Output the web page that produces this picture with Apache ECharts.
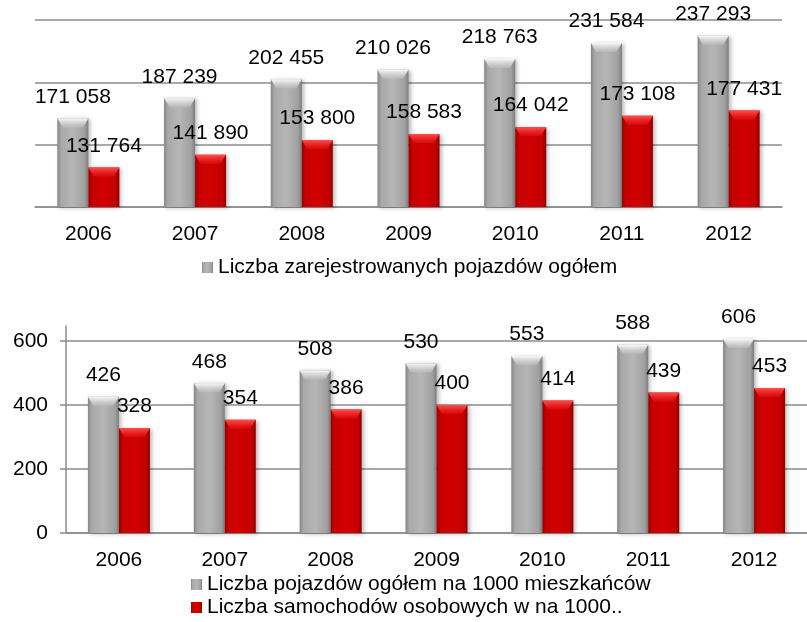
<!DOCTYPE html>
<html>
<head>
<meta charset="utf-8">
<script src="https://cdn.jsdelivr.net/npm/echarts@6/dist/echarts.min.js"></script>
<style>
  html, body { margin: 0; padding: 0; background: #ffffff; }
  #chart { width: 807px; height: 622px; }
</style>
</head>
<body>
<div id="chart"></div>
<script>
// Registered vehicles, 2006-2012
const years = ['2006', '2007', '2008', '2009', '2010', '2011', '2012'];
const vehiclesTotal = [171058, 187239, 202455, 210026, 218763, 231584, 237293];
const passengerCars = [131764, 141890, 153800, 158583, 164042, 173108, 177431];
// Per 1000 inhabitants
const vehiclesPer1000 = [426, 468, 508, 530, 553, 588, 606];
const carsPer1000 = [328, 354, 386, 400, 414, 439, 453];
const perCapitaTicks = [0, 200, 400, 600];

const nameTotal = 'Liczba zarejestrowanych pojazdów ogółem';
const nameCars = 'Liczba zarejestrowanych samochodów osobowych';
const namePer1000 = 'Liczba pojazdów ogółem na 1000 mieszkańców';
const nameCarsPer1000 = 'Liczba samochodów osobowych w na 1000..';

const FONT = "'Liberation Sans', Arial, sans-serif";
const GRID_COLOR = '#8c8c8c';
const BAR_W = 31;

const G = echarts.graphic.LinearGradient;
const greyFill = new G(0, 0, 1, 0, [
  { offset: 0, color: '#858585' },
  { offset: 0.12, color: '#a8a8a8' },
  { offset: 0.5, color: '#b6b6b6' },
  { offset: 0.88, color: '#a0a0a0' },
  { offset: 1, color: '#7c7c7c' }
]);
const redFill = new G(0, 0, 1, 0, [
  { offset: 0, color: '#980000' },
  { offset: 0.12, color: '#c60000' },
  { offset: 0.5, color: '#d20000' },
  { offset: 0.88, color: '#c20000' },
  { offset: 1, color: '#8e0000' }
]);
const greyCap = new G(0, 0, 0, 1, [
  { offset: 0, color: '#f8f8f8' },
  { offset: 1, color: 'rgba(190,190,190,0.6)' }
]);
const redCap = new G(0, 0, 0, 1, [
  { offset: 0, color: '#ff5050' },
  { offset: 1, color: 'rgba(230,20,20,0.5)' }
]);
const capPath = 'path://M0,0 L20,0 L16.5,6 L3.5,6 Z';

const fmtSpace = v => String(v).replace(/\B(?=(\d{3})+(?!\d))/g, ' ');

const barLabel = {
  show: true,
  position: 'top',
  distance: 11,
  color: '#000',
  fontFamily: FONT,
  fontSize: 21,
  formatter: p => fmtSpace(p.value)
};

function barSeries(name, data, fill, axisIdx, clip) {
  return {
    name: name,
    type: 'bar',
    xAxisIndex: axisIdx,
    yAxisIndex: axisIdx,
    data: data,
    barWidth: BAR_W,
    barGap: '0%',
    clip: clip,
    z: 2,
    itemStyle: {
      color: fill,
      shadowBlur: 4,
      shadowOffsetX: 2,
      shadowOffsetY: 1,
      shadowColor: 'rgba(0,0,0,0.28)'
    },
    label: barLabel
  };
}

function capSeries(name, data, fill, axisIdx) {
  return {
    name: name,
    type: 'pictorialBar',
    xAxisIndex: axisIdx,
    yAxisIndex: axisIdx,
    data: data,
    barWidth: BAR_W,
    barGap: '0%',
    symbol: capPath,
    symbolSize: ['100%', 9],
    symbolPosition: 'end',
    z: 3,
    silent: true,
    itemStyle: { color: fill }
  };
}

const catAxisLabel = { color: '#000', fontFamily: FONT, fontSize: 21, margin: 17 };
const legendText = { color: '#000', fontFamily: FONT, fontSize: 21, lineHeight: 21 };

const option = {
  animation: false,
  backgroundColor: '#ffffff',
  textStyle: { fontFamily: FONT },
  legend: [
    {
      data: [nameTotal],
      left: 202,
      top: 257,
      padding: 0,
      icon: 'rect',
      itemWidth: 11,
      itemHeight: 11,
      textStyle: legendText
    },
    {
      data: [namePer1000, nameCarsPer1000],
      orient: 'vertical',
      left: 191,
      top: 574,
      height: 60,
      padding: 0,
      itemGap: 2,
      icon: 'rect',
      itemWidth: 11,
      itemHeight: 11,
      textStyle: legendText
    }
  ],
  grid: [
    { left: 35, right: 25, top: 20, bottom: 415 },
    { left: 66, right: -1, top: 341, bottom: 89 },
    { left: 66, width: 10, top: 326, bottom: 89 }
  ],
  xAxis: [
    {
      type: 'category', gridIndex: 0, data: years,
      axisLine: { onZero: false, lineStyle: { color: GRID_COLOR, width: 1.5 } },
      axisTick: { lineStyle: { color: GRID_COLOR, width: 1.5 }, length: 5 },
      axisLabel: catAxisLabel
    },
    {
      type: 'category', gridIndex: 1, data: years,
      axisLine: { onZero: false, lineStyle: { color: GRID_COLOR, width: 1.5 } },
      axisTick: { lineStyle: { color: GRID_COLOR, width: 1.5 }, length: 5 },
      axisLabel: catAxisLabel
    },
    { type: 'value', gridIndex: 2, show: false, min: 0, max: 1 }
  ],
  yAxis: [
    {
      type: 'value', gridIndex: 0, min: 100000, max: 250000, interval: 50000,
      axisLine: { show: false },
      axisTick: { show: false },
      axisLabel: { show: false },
      splitLine: { lineStyle: { color: GRID_COLOR, width: 1.5 } }
    },
    {
      type: 'value', gridIndex: 1, min: perCapitaTicks[0],
      max: perCapitaTicks[perCapitaTicks.length - 1], interval: 200,
      axisLine: { show: false },
      axisTick: { show: true, length: 6, lineStyle: { color: GRID_COLOR, width: 1.5 } },
      axisLabel: { color: '#000', fontFamily: FONT, fontSize: 21, margin: 18 },
      splitLine: { lineStyle: { color: GRID_COLOR, width: 1.5 } }
    },
    {
      type: 'value', gridIndex: 2, min: 0, max: 1,
      axisLine: { show: true, lineStyle: { color: GRID_COLOR, width: 1.5 } },
      axisTick: { show: false },
      axisLabel: { show: false },
      splitLine: { show: false }
    }
  ],
  series: [
    barSeries(nameTotal, vehiclesTotal, greyFill, 0, true),
    barSeries(nameCars, passengerCars, redFill, 0, true),
    capSeries('cap-total', vehiclesTotal, greyCap, 0),
    capSeries('cap-cars', passengerCars, redCap, 0),
    barSeries(namePer1000, vehiclesPer1000, greyFill, 1, false),
    barSeries(nameCarsPer1000, carsPer1000, redFill, 1, false),
    capSeries('cap-per1000', vehiclesPer1000, greyCap, 1),
    capSeries('cap-cars-per1000', carsPer1000, redCap, 1)
  ]
};

const chart = echarts.init(document.getElementById('chart'), null, { renderer: 'canvas' });
chart.setOption(option);
</script>
</body>
</html>
